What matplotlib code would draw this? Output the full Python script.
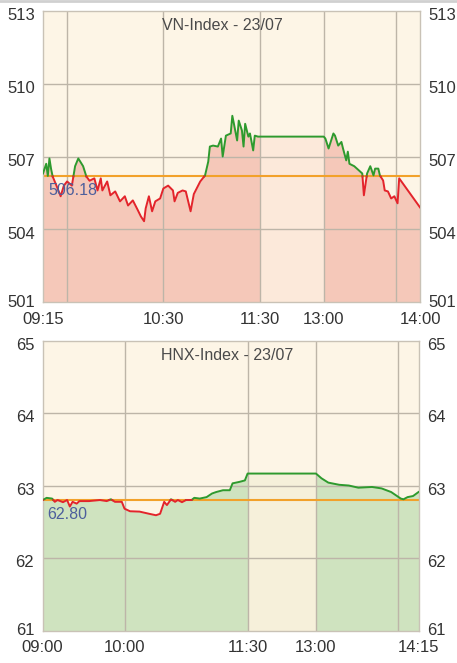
import matplotlib
matplotlib.use("Agg")
import matplotlib.pyplot as plt
import matplotlib.transforms as mtransforms
import numpy as np

plt.rcParams['font.family'] = ['Liberation Sans', 'DejaVu Sans']

# VN-Index, times in minutes after 09:00
vn_time = [15, 17, 18, 19, 20, 21, 24, 26, 28, 30, 33, 35, 37, 40, 42, 44, 47, 49, 51, 52,
           55, 57, 60, 63, 66, 68, 71, 74, 76, 78, 79, 81, 83, 85, 88, 90, 93, 96, 97, 99,
           102, 104, 107, 109, 113, 116, 118, 119, 121, 124, 126, 127, 129, 132, 133, 134,
           136, 137, 139, 140, 141, 143, 144, 146, 147, 149, 150,
           240, 241, 243, 246, 247, 249, 251, 252, 254, 255, 256, 259, 262, 264, 265, 267,
           269, 271, 272, 274, 275, 277, 278, 280, 282, 284, 286, 287, 300]
vn_value = [506.30, 506.70, 506.20, 506.92, 506.50, 506.18, 505.70, 505.36, 505.80, 505.97,
            505.80, 506.60, 506.92, 506.60, 506.18, 506.00, 506.10, 505.60, 506.10, 505.60,
            505.97, 505.40, 505.56, 505.15, 505.36, 504.98, 505.19, 504.80, 504.53, 504.33,
            504.86, 505.36, 504.74, 505.15, 505.27, 505.68, 505.80, 505.60, 505.15, 505.50,
            505.60, 505.56, 504.74, 505.45, 505.97, 506.22, 506.79, 507.41, 507.45, 507.41,
            507.74, 507.00, 507.86, 507.95, 508.68, 508.35, 507.66, 508.48, 508.07, 507.41,
            508.35, 507.82, 507.95, 507.25, 507.86, 507.82, 507.82,
            507.82, 507.74, 507.33, 507.95, 507.86, 507.45, 507.60, 507.33, 506.84, 507.20,
            506.70, 506.60, 506.42, 506.30, 505.40, 506.30, 506.60, 506.22, 506.50, 506.50,
            506.22, 506.01, 505.60, 505.56, 505.27, 505.36, 505.07, 506.10, 504.90]
vn_ref = 506.18

# HNX-Index
hnx_time = [0, 3, 7, 9, 11, 15, 18, 20, 22, 25, 27, 34, 42, 47, 50, 53, 58, 60, 64, 71,
            78, 83, 86, 89, 91, 94, 97, 99, 102, 105, 109, 111, 115, 120, 124, 127, 132,
            137, 139, 144, 148, 150,
            240, 244, 249, 257, 264, 271, 281, 288, 295, 302, 304, 307, 311, 315]
hnx_value = [62.797, 62.83, 62.82, 62.775, 62.80, 62.77, 62.80, 62.71, 62.775, 62.75,
             62.785, 62.785, 62.80, 62.785, 62.81, 62.775, 62.775, 62.68, 62.645, 62.64,
             62.61, 62.59, 62.61, 62.775, 62.73, 62.81, 62.775, 62.80, 62.77, 62.80,
             62.80, 62.83, 62.82, 62.84, 62.89, 62.91, 62.935, 62.935, 63.03, 63.05,
             63.07, 63.165,
             63.165, 63.10, 63.04, 63.01, 63.00, 62.97, 62.98, 62.96, 62.91, 62.82,
             62.81, 62.84, 62.855, 62.91]
hnx_ref = 62.80

BG = '#fdf5e6'
GRID = '#bdb5a8'
RED = '#e3242b'
GREEN = '#2e9a2e'
ORANGE = '#f2a12a'


def to_pos(t, lunch):
    t = np.asarray(t, dtype=float)
    return np.where(t <= 150, t, t - 240 + 150 + lunch)


def split_line(x, y, ref):
    xs, ys = [x[0]], [y[0]]
    for i in range(1, len(x)):
        if (y[i - 1] - ref) * (y[i] - ref) < 0:
            f = (ref - y[i - 1]) / (y[i] - y[i - 1])
            xs.append(x[i - 1] + f * (x[i] - x[i - 1]))
            ys.append(ref)
        xs.append(x[i])
        ys.append(y[i])
    xs, ys = np.array(xs), np.array(ys)
    return xs, np.where(ys >= ref, ys, np.nan), np.where(ys <= ref, ys, np.nan)


def draw(fig, ax, title, title_x, times, values, ref, ref_label, lunch, ylim, yticks,
         xlabels, xgrid, fill, lunch_fill):
    x = to_pos(times, lunch)
    y = np.array(values)
    ax.set_facecolor(BG)
    ax.set_xlim(x[0], x[-1])
    ax.set_ylim(*ylim)

    pre = x <= 150
    post = x >= 150 + lunch
    ax.fill_between(x[pre], y[pre], ylim[0], color=fill, lw=0)
    ax.fill_between(x[post], y[post], ylim[0], color=fill, lw=0)
    ax.fill_between([150, 150 + lunch], [y[pre][-1], y[post][0]], ylim[0],
                    color=lunch_fill, lw=0)

    for yt in yticks[1:-1]:
        ax.axhline(yt, color=GRID, lw=1, zorder=1)
    for g in xgrid:
        ax.axvline(to_pos(g, lunch), color=GRID, lw=1, zorder=1)

    ax.axhline(ref, color=ORANGE, lw=1.5, zorder=2)
    xs, above, below = split_line(x, y, ref)
    ax.plot(xs, above, color=GREEN, lw=1.4, zorder=3)
    ax.plot(xs, below, color=RED, lw=1.4, zorder=3)

    ax.annotate(ref_label, (0.013, ref), xycoords=ax.get_yaxis_transform(),
                xytext=(0, -5), textcoords='offset points',
                color='#4d5f9c', fontsize=11.5, va='top', ha='left', zorder=4)
    ax.text(title_x, 0.95, title, transform=ax.transAxes, ha='center',
            va='center', fontsize=11.5, color='#4a4a4a')

    ax.set_yticks(yticks)
    ax.set_yticklabels([str(v) for v in yticks])
    ax.set_xticks(to_pos([t for t, _ in xlabels], lunch))
    ax.set_xticklabels([s for _, s in xlabels])
    ax.tick_params(length=0, labelsize=12, colors='#333333',
                   labelleft=True, labelright=True)
    ax.tick_params(axis='y', pad=6)
    ax.tick_params(axis='x', pad=7)
    for i, tick in enumerate(ax.yaxis.get_major_ticks()):
        # labels sit a little below their grid line, the lowest one a little above
        dy = 1.0 if i == 0 else -2.5
        shift = mtransforms.ScaledTranslation(0, dy / 72, fig.dpi_scale_trans)
        tick.label1.set_transform(tick.label1.get_transform() + shift)
        tick.label2.set_transform(tick.label2.get_transform() + shift)
    for s in ax.spines.values():
        s.set_color('#c9c2b6')
        s.set_linewidth(1)


fig = plt.figure(figsize=(4.57, 6.63), dpi=100)
fig.patch.set_facecolor('white')
fig.add_artist(plt.Line2D([0, 1], [0.998, 0.998], color='#d0d0d0', lw=2))

ax1 = fig.add_axes([0.0941, 0.5445, 0.825, 0.4389])
draw(fig, ax1, 'VN-Index - 23/07', 0.475, vn_time, vn_value, vn_ref, '506.18', 40,
     (501, 513), [501, 504, 507, 510, 513],
     [(15, '09:15'), (90, '10:30'), (150, '11:30'), (240, '13:00'), (300, '14:00')],
     [30, 90, 150, 240, 285], '#f5c8b9', '#fce9da')

ax2 = fig.add_axes([0.093, 0.049, 0.8228, 0.4374])
draw(fig, ax2, 'HNX-Index - 23/07', 0.49, hnx_time, hnx_value, hnx_ref, '62.80', 50,
     (61, 65), [61, 62, 63, 64, 65],
     [(0, '09:00'), (60, '10:00'), (150, '11:30'), (240, '13:00'), (315, '14:15')],
     [60, 150, 240, 300], '#cfe3bf', '#f6f0da')

fig.savefig('out.png', dpi=100)
